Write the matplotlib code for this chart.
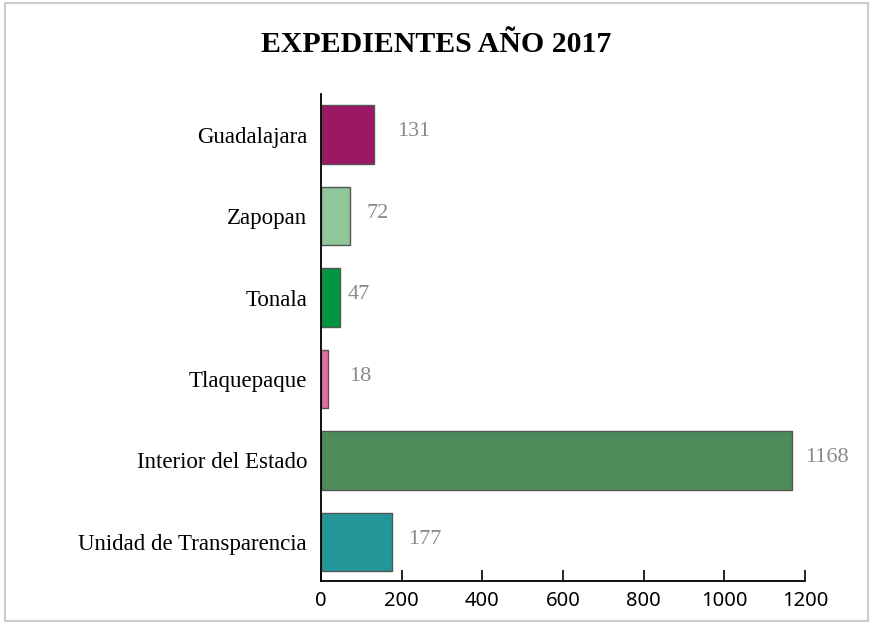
import matplotlib
matplotlib.use("Agg")
import matplotlib.pyplot as plt
from matplotlib.patches import Rectangle

categories = ["Guadalajara", "Zapopan", "Tonala", "Tlaquepaque", "Interior del Estado", "Unidad de Transparencia"]
values = [131, 72, 47, 18, 1168, 177]
colors = ["#9B1865", "#8FC79A", "#00963F", "#E66BA9", "#4E8B5B", "#23969A"]
label_offsets_px = [23, 16, 8, 21, 13, 16]
xticks = [0, 200, 400, 600, 800, 1000, 1200]

fig = plt.figure(figsize=(8.73, 6.24), dpi=100)
ax = fig.add_axes([321/873, 1-581/624, (805-321)/873, (581-94)/624])

pos = list(range(len(categories) - 1, -1, -1))
ax.barh(pos, values, height=0.72, color=colors, edgecolor="#555555", linewidth=1.0, zorder=3)

for p, v, off in zip(pos, values, label_offsets_px):
    ax.annotate(str(v), xy=(v, p), xytext=(off * 0.72, 2), textcoords="offset points",
                ha="left", va="center", fontsize=16, color="#8a8a8a",
                family="Liberation Serif")

ax.set_xlim(0, 1200)
ax.set_ylim(-0.48, 5.5)
ax.set_yticks(pos)
ax.set_yticklabels(categories, family="Liberation Serif", fontsize=16.5)
ax.set_xticks(xticks)
ax.set_xticklabels([str(t) for t in xticks], family="Noto Sans", fontsize=14.5)
ax.tick_params(axis="x", direction="in", length=8, width=1.2, pad=7, zorder=1)
ax.tick_params(axis="y", direction="in", length=6, width=1.2, pad=10, zorder=1)
for s in ["top", "right"]:
    ax.spines[s].set_visible(False)
for s in ["left", "bottom"]:
    ax.spines[s].set_linewidth(1.3)
    ax.spines[s].set_color("black")
    ax.spines[s].set_zorder(4)

fig.text(436/873, 1-45/624, "EXPEDIENTES AÑO 2017", ha="center", va="center",
         family="Liberation Serif", fontweight="bold", fontsize=21.5)

fig.patches.append(Rectangle((5/873, 3/624), 863/873, 618/624, transform=fig.transFigure,
                             fill=False, edgecolor="#cccccc", linewidth=1.5))

fig.savefig("out.png", dpi=100)
